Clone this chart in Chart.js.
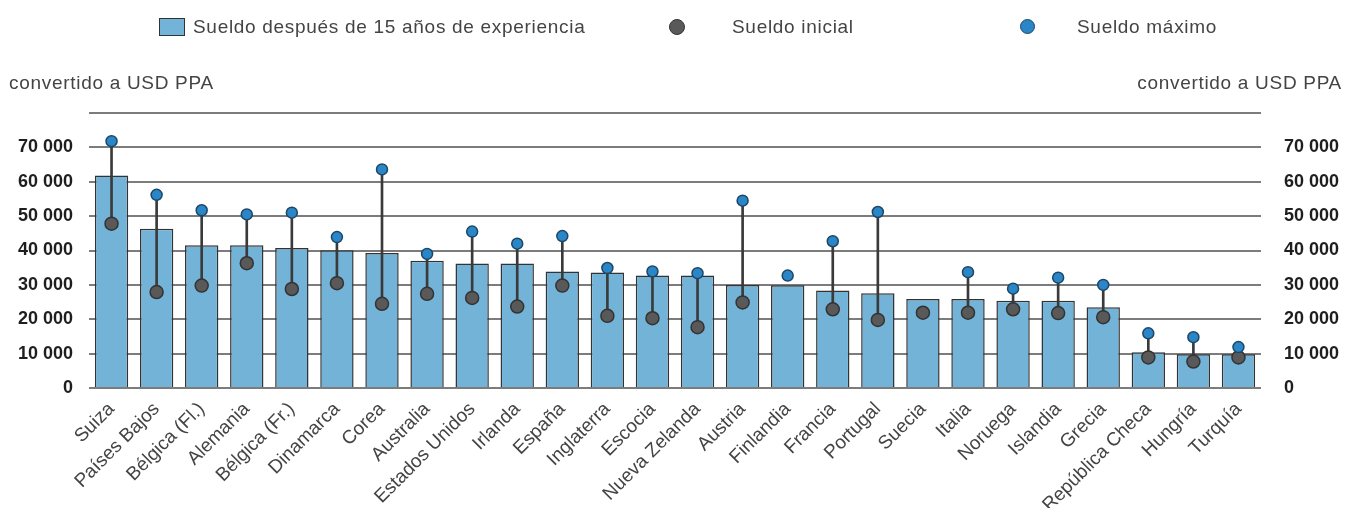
<!DOCTYPE html>
<html lang="es">
<head>
<meta charset="utf-8">
<title>Sueldos de los profesores</title>
<script src="https://cdn.jsdelivr.net/npm/chart.js@4.4.1/dist/chart.umd.min.js"></script>
<style>
    body { margin: 0; background: #fff; }
    #wrap { position: relative; width: 1346px; height: 508px; font-family: "Liberation Sans", Arial, sans-serif; color: #444; }
    #salaryChart { position: absolute; left: 0; top: 0; }
    .lbl { position: absolute; font-size: 19px; letter-spacing: 0.7px; line-height: 20px; white-space: nowrap; }
    .box { position: absolute; left: 159px; top: 18px; width: 24px; height: 16px; background: #73b3d7; border: 1.5px solid #333; }
    .dot { position: absolute; border-radius: 50%; }
</style>
</head>
<body>
<div id="wrap">
    <canvas id="salaryChart" width="1346" height="508"></canvas>
    <!-- legend -->
    <div class="box"></div>
    <div class="lbl" style="left:193px; top:17px;">Sueldo después de 15 años de experiencia</div>
    <div class="dot" style="left:669px; top:19px; width:14px; height:14px; background:#595959; border:1.5px solid #333;"></div>
    <div class="lbl" style="left:732px; top:17px;">Sueldo inicial</div>
    <div class="dot" style="left:1020px; top:19px; width:13px; height:13px; background:#2a86c6; border:1.5px solid #1d4766;"></div>
    <div class="lbl" style="left:1077px; top:17px;">Sueldo máximo</div>
    <!-- units -->
    <div class="lbl" style="left:9px; top:73px;">convertido a USD PPA</div>
    <div class="lbl" style="right:4px; top:73px;">convertido a USD PPA</div>
</div>
<script>
const ctx = document.getElementById('salaryChart');

const paises = [
    'Suiza', 'Países Bajos', 'Bélgica (Fl.)', 'Alemania', 'Bélgica (Fr.)', 'Dinamarca',
    'Corea', 'Australia', 'Estados Unidos', 'Irlanda', 'España', 'Inglaterra',
    'Escocia', 'Nueva Zelanda', 'Austria', 'Finlandia', 'Francia', 'Portugal',
    'Suecia', 'Italia', 'Noruega', 'Islandia', 'Grecia', 'República Checa',
    'Hungría', 'Turquía'
];
// sueldo tras 15 años de experiencia (barras)
const sueldo15 = [
    61800, 46300, 41500, 41500, 40700, 40100,
    39300, 37000, 36200, 36200, 33900, 33600,
    32700, 32700, 30000, 29900, 28400, 27600,
    25900, 25900, 25400, 25400, 23500, 10400,
    9800, 9800
];
const sueldoInicial = [
    47800, 27900, 29800, 36300, 28800, 30500,
    24500, 27400, 26200, 23700, 29800, 21000,
    20300, 17700, 24900, null, 22900, 19800,
    21900, 21900, 22900, 21800, 20600, 8900,
    7700, 8900
];
const sueldoMaximo = [
    71800, 56200, 51700, 50500, 51000, 43900,
    63600, 39000, 45500, 42000, 44200, 34900,
    33900, 33400, 54500, 32700, 42700, 51200,
    null, 33700, 28900, 32100, 30000, 15900,
    14800, 11900
];
const yTicksMax = 80000;
const yTicksStep = 10000;

// rango inicial-máximo como barra flotante fina
const rangos = sueldoInicial.map((v, i) =>
    (v === null || sueldoMaximo[i] === null) ? null : [v, sueldoMaximo[i]]);

function miles(v) {
    if (v === yTicksMax) return '';
    return String(v).replace(/\B(?=(\d{3})+(?!\d))/g, ' ');
}

const tickFont = { family: '"Liberation Sans", Arial, sans-serif', size: 18, weight: 'bold' };

new Chart(ctx, {
    data: {
        labels: paises,
        datasets: [{
            type: 'line',
            label: 'Sueldo máximo',
            data: sueldoMaximo,
            showLine: false,
            pointRadius: 5.5,
            pointBackgroundColor: '#2a86c6',
            pointBorderColor: '#1d4766',
            pointBorderWidth: 1.5,
            order: 1
        }, {
            type: 'line',
            label: 'Sueldo inicial',
            data: sueldoInicial,
            showLine: false,
            pointRadius: 6.5,
            pointBackgroundColor: '#595959',
            pointBorderColor: '#333',
            pointBorderWidth: 1.5,
            order: 2
        }, {
            type: 'bar',
            label: 'rango',
            data: rangos,
            backgroundColor: '#3a3a3a',
            barThickness: 2,
            grouped: false,
            order: 3
        }, {
            type: 'bar',
            label: 'Sueldo después de 15 años de experiencia',
            data: sueldo15,
            backgroundColor: '#73b3d7',
            borderColor: '#333',
            borderWidth: 1.5,
            barPercentage: 0.74,
            categoryPercentage: 1,
            grouped: false,
            order: 4
        }]
    },
    options: {
        responsive: false,
        animation: false,
        layout: {
            padding: { top: 113, left: 0, right: 0, bottom: 0 }
        },
        plugins: {
            legend: { display: false },
            tooltip: { enabled: false }
        },
        scales: {
            x: {
                grid: { display: false },
                border: { display: false },
                ticks: {
                    autoSkip: false,
                    maxRotation: 45,
                    minRotation: 45,
                    padding: 2,
                    color: '#444',
                    font: { family: '"Liberation Sans", Arial, sans-serif', size: 19 }
                },
                afterFit: (scale) => { scale.height = 120; }
            },
            y: {
                position: 'left',
                min: 0,
                max: yTicksMax,
                grid: { color: '#7c7c7c', lineWidth: 2, drawTicks: false },
                border: { display: false },
                ticks: {
                    stepSize: yTicksStep,
                    padding: 16,
                    color: '#1e1e1e',
                    font: tickFont,
                    callback: miles
                },
                afterFit: (scale) => { scale.width = 89; }
            },
            y2: {
                position: 'right',
                min: 0,
                max: yTicksMax,
                grid: { display: false },
                border: { display: false },
                ticks: {
                    stepSize: yTicksStep,
                    padding: 15,
                    color: '#1e1e1e',
                    font: tickFont,
                    callback: miles
                },
                afterFit: (scale) => { scale.width = 85; }
            }
        }
    }
});
</script>
</body>
</html>
